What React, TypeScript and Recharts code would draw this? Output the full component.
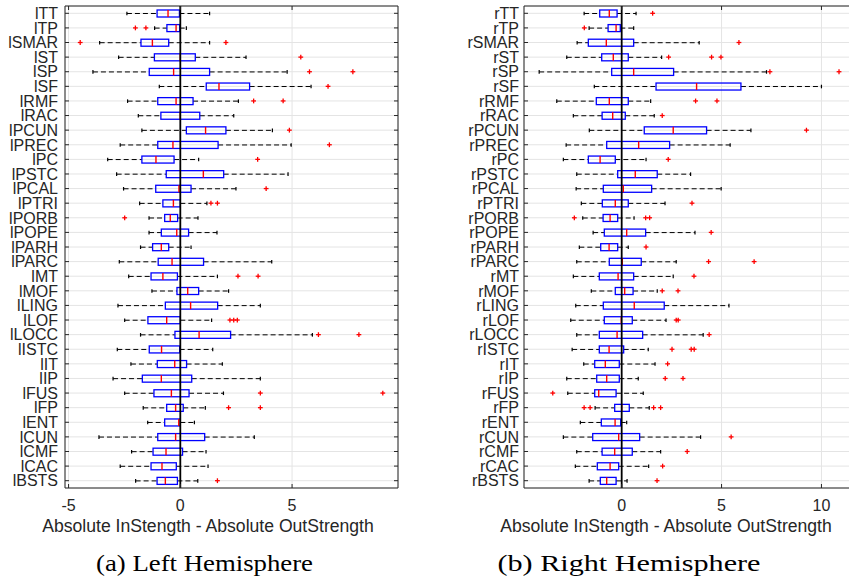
import React from 'react'
import {
  ComposedChart,
  Bar,
  Scatter,
  XAxis,
  YAxis,
  CartesianGrid,
  ReferenceLine,
  ReferenceArea,
} from 'recharts'

// ---- left hemisphere ----
const leftNames = [
  'lTT', 'lTP', 'lSMAR', 'lST', 'lSP', 'lSF', 'lRMF', 'lRAC', 'lPCUN', 'lPREC', 'lPC',
  'lPSTC', 'lPCAL', 'lPTRI', 'lPORB', 'lPOPE', 'lPARH', 'lPARC', 'lMT', 'lMOF', 'lLING',
  'lLOF', 'lLOCC', 'lISTC', 'lIT', 'lIP', 'lFUS', 'lFP', 'lENT', 'lCUN', 'lCMF', 'lCAC', 'lBSTS',
]
const leftMin = [-2.39, -1.15, -3.61, -2.76, -3.91, -0.94, -2.36, -1.88, -1.72, -2.69, -3.25, -2.85, -2.54, -1.82, -1.4, -1.4, -1.78, -2.73, -2.31, -1.27, -2.79, -2.49, -1.78, -2.82, -2.21, -3.01, -2.49, -1.66, -1.46, -3.64, -2.18, -2.69, -2.0]
const leftQ1 = [-1.04, -0.6, -1.76, -1.16, -1.39, 1.16, -1.01, -0.87, 0.27, -1.01, -1.72, -0.63, -1.1, -0.78, -0.7, -0.85, -1.24, -0.99, -1.31, -0.15, -0.67, -1.45, -0.24, -1.39, -1.03, -1.7, -1.18, -0.61, -0.7, -1.01, -1.22, -1.31, -1.04]
const leftMed = [-0.55, -0.19, -1.25, 0.0, -0.3, 1.73, -0.19, 0.0, 1.13, -0.33, -1.09, 1.03, -0.06, -0.31, -0.45, -0.16, -0.85, -0.37, -0.78, 0.33, 0.46, -0.61, 0.84, -0.84, -0.25, -0.85, -0.4, -0.21, -0.07, -0.21, -0.64, -0.82, -0.67]
const leftQ3 = [-0.04, -0.03, -0.52, 0.67, 1.31, 3.1, 0.57, 0.87, 2.04, 1.69, -0.28, 1.94, 0.48, 0.0, -0.12, 0.37, -0.52, 1.04, -0.13, 0.82, 1.67, 0.0, 2.25, -0.03, 0.28, 0.51, 0.39, 0.13, 0.0, 1.09, 0.1, -0.18, -0.13]
const leftMax = [1.31, 0.27, 1.31, 2.94, 4.78, 5.85, 2.6, 2.39, 4.12, 4.96, 0.82, 4.82, 2.49, 1.19, 0.79, 1.64, 0.48, 4.09, 1.66, 2.16, 3.58, 1.4, 5.91, 1.45, 1.88, 3.58, 1.93, 1.12, 0.63, 3.31, 1.15, 1.24, 0.78]
const leftOutliers = [
  [], [-2.01, -1.54], [-4.48, 2.04], [5.39], [5.78, 7.72], [6.61], [3.28, 4.6], [], [4.88],
  [6.67], [3.46], [], [3.84], [1.37, 1.66], [-2.49], [], [], [], [2.58, 3.48], [], [],
  [2.22, 2.39, 2.55], [6.18, 7.99], [], [], [], [3.58, 9.06], [2.16, 3.58], [], [], [], [], [1.66],
]
const leftDomain = [-5.16, 9.74]
const leftTicks = [-5, 0, 5]

// ---- right hemisphere ----
const rightNames = [
  'rTT', 'rTP', 'rSMAR', 'rST', 'rSP', 'rSF', 'rRMF', 'rRAC', 'rPCUN', 'rPREC', 'rPC',
  'rPSTC', 'rPCAL', 'rPTRI', 'rPORB', 'rPOPE', 'rPARH', 'rPARC', 'rMT', 'rMOF', 'rLING',
  'rLOF', 'rLOCC', 'rISTC', 'rIT', 'rIP', 'rFUS', 'rFP', 'rENT', 'rCUN', 'rCMF', 'rCAC', 'rBSTS',
]
const rightMin = [-1.88, -1.63, -2.23, -2.75, -4.13, -1.37, -3.25, -2.42, -1.62, -2.78, -2.92, -2.25, -2.28, -2.02, -1.95, -1.43, -2.12, -2.25, -2.42, -1.52, -2.3, -2.55, -2.25, -2.48, -1.9, -2.75, -2.7, -1.33, -2.07, -2.92, -2.25, -2.32, -1.63]
const rightQ1 = [-1.1, -0.68, -1.67, -1.0, -0.5, 1.72, -1.27, -0.98, 1.13, -0.75, -1.67, -0.2, -0.92, -0.97, -0.93, -0.87, -1.05, -0.62, -1.12, -0.32, -0.92, -0.87, -1.12, -1.12, -1.35, -1.25, -1.35, -0.35, -1.02, -1.45, -0.98, -1.22, -1.07]
const rightMed = [-0.62, -0.28, -0.77, -0.42, 0.6, 3.75, -0.62, -0.45, 2.58, 0.85, -1.08, 0.68, 0.08, -0.32, -0.58, 0.25, -0.63, 0.03, -0.18, 0.15, 0.63, -0.02, -0.23, -0.63, -0.82, -0.75, -1.15, 0.0, -0.33, -0.15, -0.35, -0.58, -0.75]
const rightQ3 = [-0.23, -0.07, 0.6, 0.33, 2.6, 5.97, 0.33, 0.18, 4.25, 2.4, -0.32, 1.78, 1.5, 0.33, -0.2, 1.2, -0.2, 0.98, 0.6, 0.57, 2.13, 0.53, 1.05, 0.1, -0.12, -0.12, -0.28, 0.38, -0.05, 0.9, 0.53, -0.15, -0.28]
const rightMax = [0.72, 0.6, 3.88, 2.0, 7.25, 10.0, 1.45, 1.63, 6.47, 5.43, 1.22, 3.45, 4.98, 2.17, 0.62, 3.67, 0.33, 2.73, 2.58, 1.78, 5.37, 2.22, 4.08, 1.33, 1.67, 0.83, 1.08, 1.38, 0.25, 3.95, 1.95, 1.35, 0.27]
const rightOutliers = [
  [1.55], [-1.87], [5.87], [2.35, 4.5, 4.97], [7.42, 10.88], [], [3.7, 4.77], [2.03], [9.25],
  [], [2.33], [], [], [3.52], [-2.37, 1.2, 1.4], [4.48], [1.22], [4.35, 6.63], [3.62],
  [2.03, 2.82], [], [2.73, 2.83], [4.38], [2.52, 3.48, 3.63], [2.3], [2.18, 3.07], [-3.45],
  [-1.88, -1.58, 1.6, 1.95], [], [5.48], [3.28], [2.05], [1.77],
]
const rightDomain = [-4.89, 11.63]
const rightTicks = [0, 5, 10]

const xTitle = 'Absolute InStength - Absolute OutStrength'

const FONT = '"Liberation Sans", Arial, Helvetica, sans-serif'
const SERIF = '"Liberation Serif", "Times New Roman", serif'
const TEXT = '#262626'
const PLOT_TOP = 6
const PLOT_BOTTOM = 488

// whole box-plot glyph: dashed whiskers, caps, blue box, red median
function BoxShape(props: any) {
  const { x, y, width, height, payload } = props
  if (payload == null || width == null) return null
  const lo = payload.min
  const hi = payload.max
  const px = (v: number) => x + ((v - lo) / (hi - lo)) * width
  const cy = y + height / 2
  return (
    <g>
      <line x1={px(lo)} x2={px(payload.q1)} y1={cy} y2={cy} stroke="#000" strokeWidth={1} strokeDasharray="5 3" />
      <line x1={px(payload.q3)} x2={px(hi)} y1={cy} y2={cy} stroke="#000" strokeWidth={1} strokeDasharray="5 3" />
      <line x1={px(lo)} x2={px(lo)} y1={cy - 1.8} y2={cy + 1.8} stroke="#000" strokeWidth={1.2} />
      <line x1={px(hi)} x2={px(hi)} y1={cy - 1.8} y2={cy + 1.8} stroke="#000" strokeWidth={1.2} />
      <rect
        x={px(payload.q1)}
        y={y}
        width={px(payload.q3) - px(payload.q1)}
        height={height}
        fill="none"
        stroke="#0000ff"
        strokeWidth={1.3}
      />
      <line x1={px(payload.med)} x2={px(payload.med)} y1={y} y2={y + height} stroke="#ff0000" strokeWidth={1.4} />
    </g>
  )
}

function PlusShape(props: any) {
  const { cx, cy } = props
  if (cx == null || cy == null) return null
  const r = 2.4
  return (
    <g stroke="#ff0000" strokeWidth={1.3}>
      <line x1={cx - r} x2={cx + r} y1={cy} y2={cy} />
      <line x1={cx} x2={cx} y1={cy - r} y2={cy + r} />
    </g>
  )
}

function YTick(props: any) {
  const { y, payload, plotL, plotR, gap } = props
  return (
    <g>
      <text x={plotL - gap} y={y} dy="0.36em" textAnchor="end" fontFamily={FONT} fontSize={16} fill={TEXT}>
        {payload.value}
      </text>
      <line x1={plotL} x2={plotL + 4} y1={y} y2={y} stroke={TEXT} />
      <line x1={plotR - 4} x2={plotR} y1={y} y2={y} stroke={TEXT} />
    </g>
  )
}

function XTick(props: any) {
  const { x, payload } = props
  return (
    <g>
      <text x={x} y={PLOT_BOTTOM + 22.5} textAnchor="middle" fontFamily={FONT} fontSize={16} fill={TEXT}>
        {payload.value}
      </text>
      <line x1={x} x2={x} y1={PLOT_BOTTOM} y2={PLOT_BOTTOM - 4} stroke={TEXT} />
      <line x1={x} x2={x} y1={PLOT_TOP} y2={PLOT_TOP + 4} stroke={TEXT} />
    </g>
  )
}

type PanelProps = {
  names: string[]
  mins: number[]
  q1s: number[]
  meds: number[]
  q3s: number[]
  maxs: number[]
  outliers: number[][]
  domain: number[]
  ticks: number[]
  width: number
  yWidth: number
  marginRight: number
  gap: number
}

function BoxPanel(p: PanelProps) {
  const data = p.names.map((name, i) => ({
    name,
    min: p.mins[i],
    q1: p.q1s[i],
    med: p.meds[i],
    q3: p.q3s[i],
    max: p.maxs[i],
  }))
  const outData = p.names.flatMap((name, i) => p.outliers[i].map(v => ({ name, v })))
  const plotL = p.yWidth
  const plotR = p.width - p.marginRight

  return (
    <ComposedChart
      width={p.width}
      height={540}
      data={data}
      layout="vertical"
      margin={{ top: PLOT_TOP, right: p.marginRight, bottom: 0, left: 0 }}
    >
      <CartesianGrid stroke="#e4e4e4" strokeWidth={1} />
      <XAxis
        type="number"
        domain={p.domain}
        ticks={p.ticks}
        allowDataOverflow
        height={52}
        axisLine={false}
        tickLine={false}
        tick={<XTick />}
      />
      <YAxis
        type="category"
        dataKey="name"
        width={p.yWidth}
        interval={0}
        allowDuplicatedCategory={false}
        axisLine={false}
        tickLine={false}
        tick={<YTick plotL={plotL} plotR={plotR} gap={p.gap} />}
      />
      <Bar
        dataKey={(d: any) => [d.min, d.max]}
        barSize={7}
        shape={(s: any) => <BoxShape {...s} />}
        isAnimationActive={false}
      />
      <Scatter data={outData} dataKey="v" shape={(s: any) => <PlusShape {...s} />} isAnimationActive={false} />
      <ReferenceLine x={0} stroke="#000" strokeWidth={1.8} />
      <ReferenceArea x1={p.domain[0]} x2={p.domain[1]} fill="none" stroke={TEXT} strokeWidth={1} />
    </ComposedChart>
  )
}

export default function App() {
  return (
    <div
      style={{
        position: 'fixed',
        left: 0,
        top: 0,
        width: 849,
        height: 581,
        overflow: 'hidden',
        background: '#fff',
      }}
    >
      <div style={{ position: 'absolute', left: 0, top: 0 }}>
        <BoxPanel
          names={leftNames}
          mins={leftMin}
          q1s={leftQ1}
          meds={leftMed}
          q3s={leftQ3}
          maxs={leftMax}
          outliers={leftOutliers}
          domain={leftDomain}
          ticks={leftTicks}
          width={400}
          yWidth={65}
          marginRight={2}
          gap={7}
        />
      </div>
      <div style={{ position: 'absolute', left: 440, top: 0 }}>
        <BoxPanel
          names={rightNames}
          mins={rightMin}
          q1s={rightQ1}
          meds={rightMed}
          q3s={rightQ3}
          maxs={rightMax}
          outliers={rightOutliers}
          domain={rightDomain}
          ticks={rightTicks}
          width={414}
          yWidth={84}
          marginRight={0}
          gap={5}
        />
      </div>
      <svg width={849} height={581} style={{ position: 'absolute', left: 0, top: 0, pointerEvents: 'none' }}>
        <text x={208} y={532} textAnchor="middle" fontFamily={FONT} fontSize={17.6} fill={TEXT}>
          {xTitle}
        </text>
        <text x={666} y={532} textAnchor="middle" fontFamily={FONT} fontSize={17.6} fill={TEXT}>
          {xTitle}
        </text>
        <text x={204.5} y={571} textAnchor="middle" fontFamily={SERIF} fontSize={24} fill="#000" textLength={217} lengthAdjust="spacingAndGlyphs">
          (a) Left Hemisphere
        </text>
        <text x={629} y={571} textAnchor="middle" fontFamily={SERIF} fontSize={24} fill="#000" textLength={263} lengthAdjust="spacingAndGlyphs">
          (b) Right Hemisphere
        </text>
      </svg>
    </div>
  )
}
